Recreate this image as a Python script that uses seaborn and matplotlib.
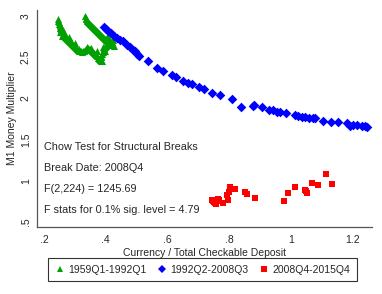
import matplotlib
matplotlib.use("Agg")
import matplotlib.pyplot as plt
from matplotlib.lines import Line2D
import seaborn as sns
import pandas as pd

# ---- data ----
green_x = [0.245, 0.246, 0.248, 0.249, 0.250, 0.252, 0.252, 0.253, 0.255, 0.256, 0.258, 0.258,
           0.260, 0.262, 0.265, 0.268, 0.271, 0.275, 0.278, 0.281, 0.284, 0.288, 0.291, 0.294,
           0.297, 0.301, 0.304, 0.307, 0.310, 0.314, 0.317, 0.320, 0.323, 0.327, 0.330, 0.333,
           0.336, 0.340, 0.343, 0.346, 0.349, 0.352, 0.356, 0.359, 0.362, 0.366, 0.369, 0.372,
           0.375, 0.379, 0.382, 0.386, 0.388, 0.385, 0.386, 0.388, 0.390, 0.391, 0.393, 0.394,
           0.397, 0.401, 0.404, 0.407, 0.410, 0.414, 0.417, 0.420, 0.424,
           0.333, 0.335, 0.336, 0.338, 0.339, 0.342, 0.346, 0.349, 0.352, 0.355, 0.359, 0.362,
           0.365, 0.368, 0.372, 0.375, 0.378, 0.381, 0.385, 0.388, 0.391, 0.394, 0.398, 0.401,
           0.404, 0.407, 0.411, 0.414, 0.417, 0.407, 0.403,
           0.252, 0.256, 0.262, 0.258, 0.266, 0.272, 0.280, 0.287, 0.300, 0.312, 0.340, 0.353,
           0.372, 0.381, 0.392, 0.398, 0.412, 0.425, 0.428]
green_y = [2.960, 2.945, 2.925, 2.905, 2.890, 2.875, 2.860, 2.850, 2.840, 2.825, 2.815, 2.800,
           2.785, 2.770, 2.760, 2.750, 2.735, 2.720, 2.710, 2.695, 2.685, 2.670, 2.660, 2.650,
           2.635, 2.625, 2.610, 2.600, 2.590, 2.580, 2.575, 2.570, 2.565, 2.570, 2.575, 2.590,
           2.600, 2.610, 2.612, 2.605, 2.600, 2.590, 2.575, 2.565, 2.550, 2.540, 2.525, 2.510,
           2.490, 2.480, 2.466, 2.455, 2.450, 2.500, 2.520, 2.540, 2.560, 2.575, 2.595, 2.612,
           2.625, 2.636, 2.648, 2.660, 2.672, 2.684, 2.690, 2.684, 2.709,
           2.995, 2.980, 2.965, 2.950, 2.940, 2.925, 2.915, 2.900, 2.891, 2.880, 2.867, 2.855,
           2.842, 2.830, 2.818, 2.805, 2.794, 2.780, 2.769, 2.757, 2.745, 2.733, 2.721, 2.709,
           2.697, 2.684, 2.672, 2.665, 2.660, 2.757, 2.745,
           2.800, 2.870, 2.830, 2.760, 2.790, 2.760, 2.740, 2.700, 2.670, 2.600, 2.625, 2.615,
           2.570, 2.500, 2.620, 2.580, 2.650, 2.640, 2.730]

blue_x = [0.395, 0.401, 0.408, 0.416, 0.425, 0.436, 0.446, 0.455, 0.470, 0.477, 0.488, 0.495,
          0.502, 0.509, 0.536, 0.565, 0.587, 0.614, 0.628, 0.650, 0.665, 0.679, 0.703, 0.719,
          0.744, 0.770, 0.808, 0.839, 0.876, 0.882, 0.906, 0.930, 0.943, 0.954, 0.965, 0.984,
          1.014, 1.024, 1.035, 1.046, 1.060, 1.071, 1.078, 1.103, 1.129, 1.152, 1.181, 1.190,
          1.201, 1.214, 1.230, 1.240, 1.246]
blue_y = [2.870, 2.845, 2.820, 2.790, 2.760, 2.730, 2.710, 2.700, 2.650, 2.620, 2.590, 2.570,
          2.540, 2.510, 2.450, 2.370, 2.330, 2.280, 2.260, 2.210, 2.190, 2.170, 2.140, 2.110,
          2.070, 2.040, 1.990, 1.900, 1.905, 1.915, 1.890, 1.855, 1.855, 1.840, 1.830, 1.820,
          1.800, 1.790, 1.780, 1.770, 1.765, 1.760, 1.760, 1.730, 1.710, 1.710, 1.700, 1.660,
          1.680, 1.675, 1.670, 1.660, 1.650]

red_x = [0.743, 0.747, 0.750, 0.754, 0.758, 0.762, 0.765, 0.768, 0.779, 0.792, 0.797, 0.800,
         0.803, 0.819, 0.852, 0.857, 0.884, 0.979, 0.989, 1.014, 1.046, 1.050, 1.052, 1.068,
         1.089, 1.114, 1.133]
red_y = [0.767, 0.759, 0.745, 0.735, 0.720, 0.760, 0.776, 0.770, 0.730, 0.825, 0.765, 0.868,
         0.928, 0.900, 0.868, 0.836, 0.790, 0.757, 0.850, 0.920, 0.890, 0.870, 0.848, 0.970,
         0.950, 1.085, 0.965]

labels = ["1959Q1-1992Q1", "1992Q2-2008Q3", "2008Q4-2015Q4"]
x_ticks = [0.2, 0.4, 0.6, 0.8, 1.0, 1.2]
x_ticklabels = [".2", ".4", ".6", ".8", "1", "1.2"]
y_ticks = [0.5, 1.0, 1.5, 2.0, 2.5, 3.0]
y_ticklabels = [".5", "1", "1.5", "2", "2.5", "3"]
notes = ["Chow Test for Structural Breaks", "Break Date: 2008Q4",
         "F(2,224) = 1245.69", "F stats for 0.1% sig. level = 4.79"]

df = pd.concat([
    pd.DataFrame({"x": green_x, "y": green_y, "period": labels[0]}),
    pd.DataFrame({"x": blue_x, "y": blue_y, "period": labels[1]}),
    pd.DataFrame({"x": red_x, "y": red_y, "period": labels[2]}),
], ignore_index=True)

sns.set_theme(style="white")
plt.rcParams["font.family"] = ["Liberation Sans", "DejaVu Sans"]

colors = {labels[0]: "#00a000", labels[1]: "#0000ff", labels[2]: "#ff0000"}
markers = {labels[0]: "^", labels[1]: "D", labels[2]: "s"}
sizes = {labels[0]: 26, labels[1]: 24, labels[2]: 22}

fig = plt.figure(figsize=(3.82, 2.94), dpi=100)
ax = fig.add_axes([0.0969, 0.228, 0.877, 0.738])

for lab in labels:
    sub = df[df["period"] == lab]
    sns.scatterplot(data=sub, x="x", y="y", color=colors[lab], marker=markers[lab],
                    s=sizes[lab], linewidth=0, ax=ax, legend=False)

ax.set_xlim(0.177, 1.263)
ax.set_ylim(0.439, 3.073)
ax.set_xticks(x_ticks)
ax.set_xticklabels(x_ticklabels, fontsize=7.5)
ax.set_yticks(y_ticks)
ax.set_yticklabels(y_ticklabels, fontsize=7.5, rotation=90, va="center")
ax.tick_params(axis="both", direction="out", length=3, width=0.7, color="#444444", pad=2.5)
ax.tick_params(axis="y", pad=1.5)
for side in ["top", "right"]:
    ax.spines[side].set_visible(False)
for side in ["left", "bottom"]:
    ax.spines[side].set_color("#555555")
    ax.spines[side].set_linewidth(0.9)
ax.set_xlabel("Currency / Total Checkable Deposit", fontsize=7.5, labelpad=2.5)
ax.set_ylabel("M1 Money Multiplier", fontsize=7.5, labelpad=2.5)

ypos = [0.367, 0.270, 0.174, 0.078]
for t, yy in zip(notes, ypos):
    ax.text(0.021, yy, t, transform=ax.transAxes, fontsize=7.8, va="center", ha="left")

handles = [Line2D([0], [0], marker=markers[l], color="none", markerfacecolor=colors[l],
                  markeredgewidth=0, markersize=4.5, label=l) for l in labels]
leg = fig.legend(handles=handles, loc="center", bbox_to_anchor=(0.53, 0.083), ncol=3,
                 frameon=True, fancybox=False, fontsize=7.5, handletextpad=0.3,
                 columnspacing=1.0, borderpad=0.65, handlelength=1.0)
leg.get_frame().set_edgecolor("black")
leg.get_frame().set_linewidth(0.8)

fig.savefig("out.png", dpi=100)
